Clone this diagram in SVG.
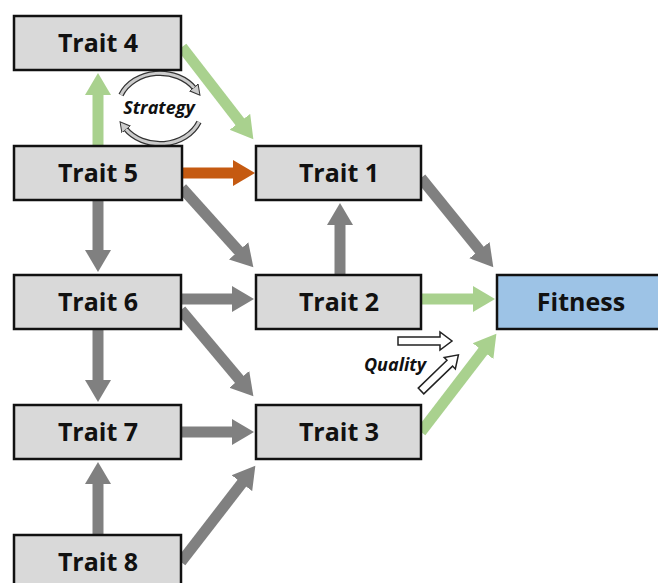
<svg xmlns="http://www.w3.org/2000/svg" width="658" height="583" viewBox="0 0 658 583">
<style>
.box{fill:#d9d9d9;stroke:#111;stroke-width:2.5}
.fit{fill:#9dc3e6;stroke:#111;stroke-width:2.5}
.lbl{font-family:"Open Sans","Liberation Sans",sans-serif;font-weight:bold;font-size:25px;fill:#111;text-anchor:middle}
.it{font-family:"Open Sans","Liberation Sans",sans-serif;font-weight:bold;font-style:italic;font-size:18px;fill:#111;text-anchor:middle}
.g{stroke:#808080;stroke-width:11;fill:none}
.gr{stroke:#a9d18e;stroke-width:11;fill:none}
.or{stroke:#c55a11;stroke-width:11;fill:none}
.hollow{fill:#fff;stroke:#222;stroke-width:1.5}
</style>
<defs>
<marker id="hg" markerUnits="userSpaceOnUse" markerWidth="24" markerHeight="28" viewBox="0 -14 24 28" refX="1" refY="0" orient="auto"><path d="M0,-13 L22,0 L0,13 z" fill="#808080"/></marker>
<marker id="hgr" markerUnits="userSpaceOnUse" markerWidth="24" markerHeight="28" viewBox="0 -14 24 28" refX="1" refY="0" orient="auto"><path d="M0,-13 L22,0 L0,13 z" fill="#a9d18e"/></marker>
<marker id="hor" markerUnits="userSpaceOnUse" markerWidth="24" markerHeight="28" viewBox="0 -14 24 28" refX="1" refY="0" orient="auto"><path d="M0,-13 L22,0 L0,13 z" fill="#c55a11"/></marker>
<marker id="hs" markerUnits="userSpaceOnUse" markerWidth="12" markerHeight="14" viewBox="0 -7 12 14" refX="2" refY="0" orient="auto"><path d="M0,-5.5 L10,0 L0,5.5 z" fill="#ccc" stroke="#333" stroke-width="1"/></marker>
</defs>
<g id="connectors">
<line class="gr" x1="98" y1="146" x2="98" y2="94" marker-end="url(#hgr)"/>
<line class="gr" x1="182" y1="47" x2="240.5" y2="122.6" marker-end="url(#hgr)"/>
<line class="or" x1="182" y1="173" x2="234" y2="173" marker-end="url(#hor)"/>
<line class="g" x1="182" y1="188" x2="239.3" y2="251.6" marker-end="url(#hg)"/>
<line class="g" x1="98" y1="200" x2="98" y2="251" marker-end="url(#hg)"/>
<line class="g" x1="340" y1="275" x2="340" y2="224" marker-end="url(#hg)"/>
<line class="g" x1="421" y1="178" x2="480.1" y2="250.9" marker-end="url(#hg)"/>
<line class="g" x1="181" y1="299" x2="233" y2="299" marker-end="url(#hg)"/>
<line class="g" x1="181" y1="310" x2="239.9" y2="380.1" marker-end="url(#hg)"/>
<line class="gr" x1="421" y1="299" x2="474" y2="299" marker-end="url(#hgr)"/>
<line class="g" x1="98" y1="329" x2="98" y2="381" marker-end="url(#hg)"/>
<line class="g" x1="181" y1="432" x2="233" y2="432" marker-end="url(#hg)"/>
<line class="gr" x1="421" y1="432" x2="483.6" y2="350.4" marker-end="url(#hgr)"/>
<line class="g" x1="98" y1="535" x2="98" y2="483" marker-end="url(#hg)"/>
<line class="g" x1="181" y1="562" x2="242.5" y2="482.4" marker-end="url(#hg)"/>
</g>
<g id="strategy">
<path d="M121,95 A42,35 0 0 1 195,89" fill="none" stroke="#333" stroke-width="5.5"/>
<path d="M121,95 A42,35 0 0 1 195,89" fill="none" stroke="#ccc" stroke-width="3" marker-end="url(#hs)"/>
<path d="M199,122 A42,35 0 0 1 125,128" fill="none" stroke="#333" stroke-width="5.5"/>
<path d="M199,122 A42,35 0 0 1 125,128" fill="none" stroke="#ccc" stroke-width="3" marker-end="url(#hs)"/>
<text class="it" x="159" y="114">Strategy</text>
</g>
<g id="quality">
<polygon class="hollow" points="398,337 440,337 440,332 452,341 440,350 440,345 398,345"/>
<polygon class="hollow" transform="translate(421,391) rotate(-44)" points="0,-4 40,-4 40,-8 52,0 40,8 40,4 0,4"/>
<text class="it" x="395" y="371">Quality</text>
</g>
<g id="trait4"><rect class="box" x="14" y="16" width="167" height="54"/><text class="lbl" x="98" y="52">Trait 4</text></g>
<g id="trait5"><rect class="box" x="14" y="146" width="168" height="54"/><text class="lbl" x="98" y="182">Trait 5</text></g>
<g id="trait6"><rect class="box" x="14" y="275" width="167" height="54"/><text class="lbl" x="98" y="311">Trait 6</text></g>
<g id="trait7"><rect class="box" x="14" y="405" width="167" height="54"/><text class="lbl" x="98" y="441">Trait 7</text></g>
<g id="trait8"><rect class="box" x="14" y="535" width="167" height="60"/><text class="lbl" x="98" y="571">Trait 8</text></g>
<g id="trait1"><rect class="box" x="256" y="146" width="165" height="54"/><text class="lbl" x="339" y="182">Trait 1</text></g>
<g id="trait2"><rect class="box" x="256" y="275" width="165" height="54"/><text class="lbl" x="339" y="311">Trait 2</text></g>
<g id="trait3"><rect class="box" x="256" y="405" width="165" height="54"/><text class="lbl" x="339" y="441">Trait 3</text></g>
<g id="fitness"><rect class="fit" x="497" y="275" width="180" height="54"/><text class="lbl" x="581" y="311">Fitness</text></g>
</svg>
